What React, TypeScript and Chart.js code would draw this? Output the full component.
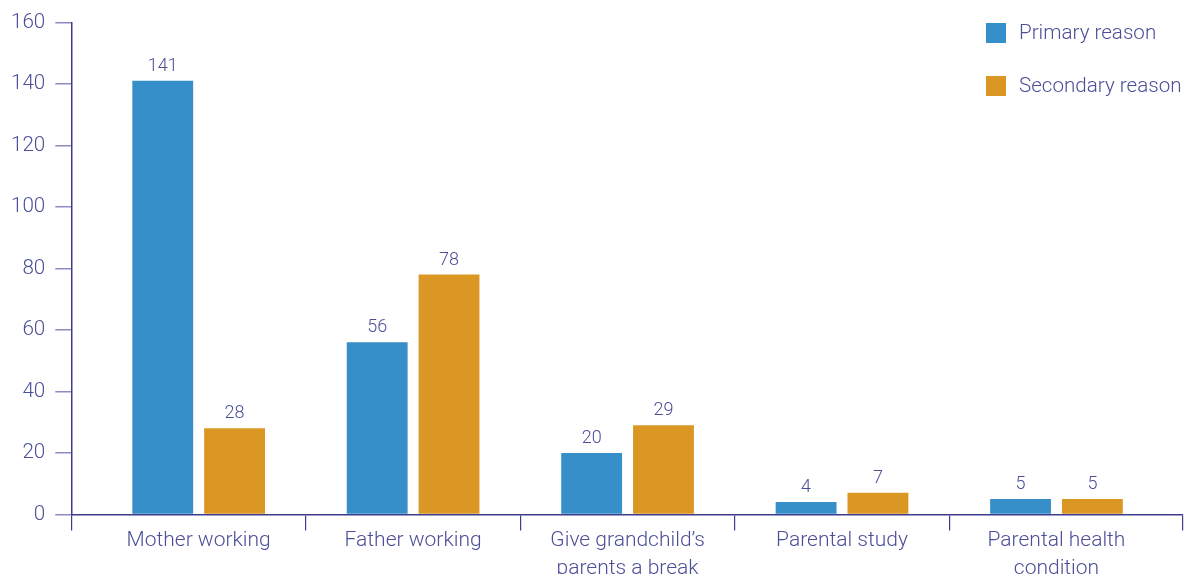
import React, { useEffect, useRef } from 'react';
import { Chart, registerables } from 'chart.js';

Chart.register(...registerables);

const categories: string[][] = [
  ['Mother working'],
  ['Father working'],
  ['Give grandchild\u2019s', 'parents a break'],
  ['Parental study'],
  ['Parental health', 'condition'],
];
const seriesNames = ['Primary reason', 'Secondary reason'];
const primaryValues = [141, 56, 20, 4, 5];
const secondaryValues = [28, 78, 29, 7, 5];
const yMin = 0;
const yMax = 160;
const yStep = 20;

const BLUE = '#378fc9';
const ORANGE = '#db9723';
const TEXT = '#4b4f97';
const AXIS = '#3d3d8f';
const TICK = '#8c8cc0';
const FONT = 'Roboto, "Liberation Sans", Arial, sans-serif';

const X_MIN = -0.594;
const X_MAX = 4.59;

const valueLabels = {
  id: 'valueLabels',
  afterDatasetsDraw(chart: any) {
    const ctx = chart.ctx;
    ctx.save();
    ctx.font = `300 18px ${FONT}`;
    ctx.fillStyle = TEXT;
    ctx.textAlign = 'center';
    ctx.textBaseline = 'alphabetic';
    chart.data.datasets.forEach((ds: any, di: number) => {
      const meta = chart.getDatasetMeta(di);
      meta.data.forEach((el: any, i: number) => {
        const v = ds.data[i].y;
        ctx.fillText(String(v), el.x, el.y - 10);
      });
    });
    ctx.restore();
  },
};

const customLegend = {
  id: 'customLegend',
  afterDraw(chart: any) {
    const ctx = chart.ctx;
    const area = chart.chartArea;
    ctx.save();
    ctx.font = `300 20.6px ${FONT}`;
    ctx.textAlign = 'left';
    ctx.textBaseline = 'middle';
    chart.data.datasets.forEach((ds: any, i: number) => {
      const bx = area.right - 197;
      const by = 23 + i * 53;
      ctx.fillStyle = ds.backgroundColor;
      ctx.fillRect(bx, by, 20, 20);
      ctx.fillStyle = TEXT;
      ctx.fillText(ds.label, bx + 33, by + 11);
    });
    ctx.restore();
  },
};

export default function App() {
  const canvasRef = useRef<HTMLCanvasElement>(null);

  useEffect(() => {
    document.body.style.margin = '0';
    document.body.style.overflow = 'hidden';
    const canvas = canvasRef.current;
    if (!canvas) return;
    const chart = new Chart(canvas, {
      type: 'bar',
      data: {
        datasets: [
          {
            label: seriesNames[0],
            data: primaryValues.map((v, i) => ({ x: i, y: v })),
            backgroundColor: BLUE,
          },
          {
            label: seriesNames[1],
            data: secondaryValues.map((v, i) => ({ x: i, y: v })),
            backgroundColor: ORANGE,
          },
        ],
      },
      options: {
        animation: false,
        responsive: false,
        devicePixelRatio: 1,
        categoryPercentage: 0.67,
        barPercentage: 0.847,
        layout: { padding: { top: 5, left: 1, right: 4, bottom: 0 } },
        plugins: {
          legend: { display: false },
          tooltip: { enabled: false },
        },
        scales: {
          x: {
            type: 'linear',
            position: 'bottom',
            weight: 1,
            min: X_MIN,
            max: X_MAX,
            offset: false,
            afterBuildTicks: (scale: any) => {
              scale.ticks = categories.map((_, i) => ({ value: i }));
            },
            grid: { display: false, drawTicks: false, offset: false },
            border: { display: false },
            ticks: {
              autoSkip: false,
              maxRotation: 0,
              minRotation: 0,
              padding: 4,
              color: TEXT,
              font: { family: FONT, size: 21, weight: '300', lineHeight: 1.3 },
              callback: (_v: any, index: number) => categories[index],
            },
          },
          x2: {
            type: 'linear',
            position: 'bottom',
            weight: 0,
            min: X_MIN,
            max: X_MAX,
            offset: false,
            afterBuildTicks: (scale: any) => {
              const b = [X_MIN];
              for (let i = 0; i < categories.length - 1; i++) b.push(i + 0.5);
              b.push(X_MAX);
              scale.ticks = b.map((value) => ({ value }));
            },
            afterFit: (scale: any) => {
              scale.height = 9;
            },
            grid: {
              display: true,
              drawOnChartArea: false,
              drawTicks: true,
              tickLength: 16,
              color: AXIS,
              lineWidth: 1.2,
              offset: false,
            },
            border: { display: true, color: AXIS, width: 1.5 },
            ticks: { display: false },
          },
          y: {
            type: 'linear',
            min: yMin,
            max: yMax,
            border: { display: true, color: AXIS, width: 1.5 },
            grid: {
              display: true,
              drawOnChartArea: false,
              drawTicks: true,
              tickLength: 16,
              color: TICK,
              lineWidth: 1.5,
            },
            ticks: {
              stepSize: yStep,
              padding: 10,
              color: TEXT,
              font: { family: FONT, size: 20.6, weight: '300' },
            },
          },
        },
      },
      plugins: [valueLabels, customLegend],
    } as any);
    return () => chart.destroy();
  }, []);

  return (
    <div style={{ width: 1187, height: 574, overflow: 'hidden' }}>
      <canvas ref={canvasRef} width={1187} height={586} style={{ display: 'block', width: 1187, height: 586 }} />
    </div>
  );
}
